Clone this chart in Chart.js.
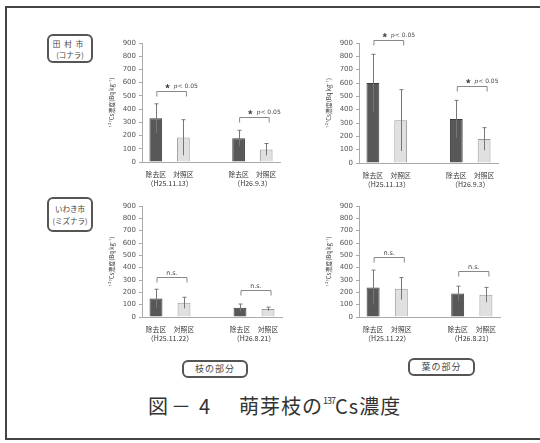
<!DOCTYPE html>
<html>
<head>
<meta charset="utf-8">
<script src="https://cdn.jsdelivr.net/npm/chart.js@4.4.1/dist/chart.umd.min.js"></script>
<style>
body{margin:0;width:540px;height:443px;background:#fff;position:relative;overflow:hidden;font-family:"Noto Sans CJK JP",sans-serif}
.frame{position:absolute;left:5px;top:6px;width:560px;height:434px;border:2px solid #444;box-sizing:border-box}
.tag{position:absolute;border:2px solid #555;border-radius:6px;color:#444;text-align:center;box-sizing:border-box;background:#fff}
canvas{position:absolute}
.caption{position:absolute;left:148px;top:388px;font-size:20px;line-height:26px;color:#333;white-space:nowrap}
.caption sup{font-size:9px;vertical-align:10px;letter-spacing:-1px}
</style>
</head>
<body>
<div class="frame"></div>
<div class="tag" style="left:47px;top:34px;width:46px;height:29px;font-size:7.5px;line-height:11px;padding-top:2px"><span style="letter-spacing:4px">田村市</span><br>(コナラ)</div>
<div class="tag" style="left:47px;top:197px;width:46px;height:35px;font-size:7.5px;line-height:12px;padding-top:4px">いわき市<br>(ミズナラ)</div>
<div class="tag" style="left:182px;top:360px;width:66px;height:18px;font-size:9px;line-height:14px;letter-spacing:1px">枝の部分</div>
<div class="tag" style="left:408px;top:358px;width:67px;height:18px;font-size:9px;line-height:14px;letter-spacing:1px">葉の部分</div>
<div class="caption"><span>図</span><span style="margin-left:3px">－</span><span style="margin-left:8px">4</span><span style="margin-left:29px;letter-spacing:1px">萌芽枝の<sup>137</sup>Cs濃度</span></div>

<script>
// tick labels
const barLabels = ['除去区', '対照区', '', '除去区', '対照区'];
const datesTamura = ['（H25.11.13）', '（H26.9.3）'];
const datesIwaki = ['（H25.11.22）', '（H26.8.21）'];
const yTitle = '¹³⁷Cs濃度(Bq kg⁻¹)';

// 田村市 (コナラ) - branches
const tamuraBranchTreated = [330, 180];
const tamuraBranchControl = [185, 95];
const tamuraBranchTreatedSd = [110, 60];
const tamuraBranchControlSd = [135, 45];
const tamuraBranchBracket = [540, 340];
const tamuraBranchSig = ['p', 'p'];

// 田村市 (コナラ) - leaves
const tamuraLeafTreated = [600, 330];
const tamuraLeafControl = [320, 180];
const tamuraLeafTreatedSd = [215, 140];
const tamuraLeafControlSd = [230, 85];
const tamuraLeafBracket = [920, 578];
const tamuraLeafSig = ['p', 'p'];

// いわき市 (ミズナラ) - branches
const iwakiBranchTreated = [150, 75];
const iwakiBranchControl = [115, 65];
const iwakiBranchTreatedSd = [75, 30];
const iwakiBranchControlSd = [45, 15];
const iwakiBranchBracket = [325, 220];
const iwakiBranchSig = ['ns', 'ns'];

// いわき市 (ミズナラ) - leaves
const iwakiLeafTreated = [240, 190];
const iwakiLeafControl = [230, 180];
const iwakiLeafTreatedSd = [140, 60];
const iwakiLeafControlSd = [90, 60];
const iwakiLeafBracket = [485, 375];
const iwakiLeafSig = ['ns', 'ns'];

const FONT = '"Noto Sans CJK JP", sans-serif';

// error bars, brackets and date lines
const extras = {
    id: 'extras',
    afterDatasetsDraw(chart, args, opts) {
        const {ctx, scales: {x, y}} = chart;
        const meta = chart.getDatasetMeta(0);
        const vals = chart.data.datasets[0].data;
        ctx.save();
        ctx.lineWidth = 1;
        ctx.strokeStyle = '#777';
        opts.sds.forEach((sd, i) => {
            if (sd == null) return;
            const cx = Math.round(meta.data[i].x) + 0.5;
            const top = y.getPixelForValue(vals[i] + sd);
            const bot = y.getPixelForValue(Math.max(0, vals[i] - sd));
            ctx.beginPath();
            ctx.moveTo(cx, bot);
            ctx.lineTo(cx, top);
            ctx.moveTo(cx - 2, top);
            ctx.lineTo(cx + 2, top);
            ctx.stroke();
        });
        // brackets
        [[0, 1], [3, 4]].forEach((pair, g) => {
            const x1 = meta.data[pair[0]].x + 1;
            const x2 = meta.data[pair[1]].x + 3;
            const by = Math.round(y.getPixelForValue(opts.bracket[g])) + 0.5;
            ctx.strokeStyle = '#888';
            ctx.beginPath();
            ctx.moveTo(x1, by + 5);
            ctx.lineTo(x1, by);
            ctx.lineTo(x2, by);
            ctx.lineTo(x2, by + 5);
            ctx.stroke();
            const mid = (x1 + x2) / 2;
            ctx.fillStyle = '#444';
            ctx.textBaseline = 'alphabetic';
            if (opts.sig[g] === 'p') {
                ctx.font = 'bold 11px ' + FONT;
                ctx.textAlign = 'center';
                ctx.fillText('*', mid - 4, by + 1);
                ctx.font = 'italic 6px "DejaVu Serif"';
                ctx.textAlign = 'left';
                ctx.fillText('p', mid + 2, by - 4);
                ctx.font = '6px "DejaVu Sans"';
                ctx.fillText('< 0.05', mid + 6, by - 4);
            } else {
                ctx.font = '6.5px "DejaVu Sans"';
                ctx.textAlign = 'center';
                ctx.fillText('n.s.', mid, by - 3);
            }
            // date line under the pair
            const dx = (x.getPixelForValue(pair[0]) + x.getPixelForValue(pair[1])) / 2;
            ctx.font = '7px ' + FONT;
            ctx.fillStyle = '#333';
            ctx.textAlign = 'center';
            ctx.fillText(opts.dates[g], dx, y.bottom + 24);
        });
        ctx.restore();
    }
};

function makePanel(g, treated, control, treatedSd, controlSd, dates, bracket, sig) {
    const padL = 40, padT = 30, padR = 40, padB = 34;
    const cv = document.createElement('canvas');
    cv.width = g.right - g.left + padL + padR;
    cv.height = g.bottom - g.top + padT + padB;
    cv.style.left = (g.left - padL) + 'px';
    cv.style.top = (g.top - padT) + 'px';
    document.body.appendChild(cv);

    const values = [treated[0], control[0], null, treated[1], control[1]];
    const sds = [treatedSd[0], controlSd[0], null, treatedSd[1], controlSd[1]];
    const dark = '#585858', light = '#e0e0e0';

    return new Chart(cv, {
        type: 'bar',
        data: {
            labels: barLabels,
            datasets: [{
                data: values,
                backgroundColor: [dark, light, dark, dark, light],
                borderColor: ['#3a3a3a', '#999', '#3a3a3a', '#3a3a3a', '#999'],
                borderWidth: 1,
                barPercentage: 0.46,
                categoryPercentage: 1
            }]
        },
        options: {
            responsive: false,
            animation: false,
            devicePixelRatio: 1,
            layout: {padding: {top: padT, right: padR, left: 0, bottom: 0}},
            plugins: {
                legend: {display: false},
                tooltip: {enabled: false},
                extras: {sds: sds, dates: dates, bracket: bracket, sig: sig}
            },
            scales: {
                x: {
                    grid: {display: false},
                    border: {color: '#aaa'},
                    ticks: {font: {size: 6.8, family: FONT}, color: '#333', padding: 0, autoSkip: false, maxRotation: 0},
                    afterFit: s => { s.height = padB; }
                },
                y: {
                    min: 0,
                    max: 900,
                    ticks: {stepSize: 100, font: {size: 7, family: 'DejaVu Sans'}, color: '#555', padding: 3},
                    grid: {drawOnChartArea: false, tickLength: 3, color: '#aaa'},
                    border: {color: '#aaa'},
                    title: {display: true, text: yTitle, font: {size: 6, family: FONT}, color: '#444', padding: {top: 6, bottom: 0}},
                    afterFit: s => { s.width = padL; }
                }
            }
        },
        plugins: [extras]
    });
}

makePanel({left: 142, right: 280, top: 43, bottom: 162},
    tamuraBranchTreated, tamuraBranchControl, tamuraBranchTreatedSd, tamuraBranchControlSd,
    datesTamura, tamuraBranchBracket, tamuraBranchSig);
makePanel({left: 359, right: 498, top: 43, bottom: 163},
    tamuraLeafTreated, tamuraLeafControl, tamuraLeafTreatedSd, tamuraLeafControlSd,
    datesTamura, tamuraLeafBracket, tamuraLeafSig);
makePanel({left: 142, right: 282, top: 206, bottom: 317},
    iwakiBranchTreated, iwakiBranchControl, iwakiBranchTreatedSd, iwakiBranchControlSd,
    datesIwaki, iwakiBranchBracket, iwakiBranchSig);
makePanel({left: 359, right: 500, top: 206, bottom: 317},
    iwakiLeafTreated, iwakiLeafControl, iwakiLeafTreatedSd, iwakiLeafControlSd,
    datesIwaki, iwakiLeafBracket, iwakiLeafSig);
</script>
</body>
</html>
